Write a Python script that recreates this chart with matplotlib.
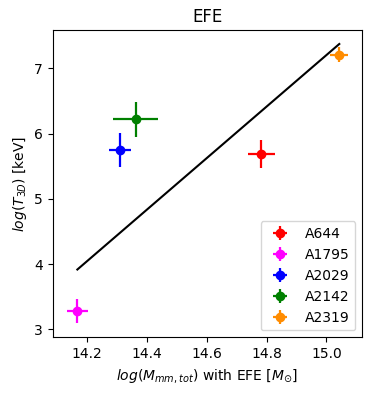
import matplotlib
matplotlib.use('Agg')
import numpy as np
import matplotlib.pyplot as plt

# Datos de los cúmulos
clusters = ['A644', 'A1795', 'A2029', 'A2142', 'A2319']
colors = ['red', 'magenta', 'blue', 'green', 'darkorange']
log_M = [14.782, 14.167, 14.309, 14.362, 15.043]
log_M_err = [0.045, 0.035, 0.037, 0.076, 0.030]
log_T = [5.687, 3.28, 5.748, 6.221, 7.214]
log_T_err = [0.22, 0.19, 0.265, 0.267, 0.11]

# Relación (recta) entre extremos
fit_x = [min(log_M), max(log_M)]
fit_y = [3.916, 7.376]

fig, ax = plt.subplots(figsize=(3.72, 3.95))
fig.subplots_adjust(left=0.142, right=0.974, top=0.924, bottom=0.146)

for name, c, x, xe, y, ye in zip(clusters, colors, log_M, log_M_err, log_T, log_T_err):
    ax.errorbar(x, y, xerr=xe, yerr=ye, fmt='o', color=c, elinewidth=1.6, label=name)

ax.plot(fit_x, fit_y, color='black', lw=1.5)

ax.set_title('EFE')
ax.set_xlabel(r'$log(M_{mm,tot})$ with EFE [$M_{\odot}$]')
ax.set_ylabel(r'$log(T_{3D})$ [keV]')
ax.legend(loc='lower right')

plt.savefig('out.png', dpi=100)
